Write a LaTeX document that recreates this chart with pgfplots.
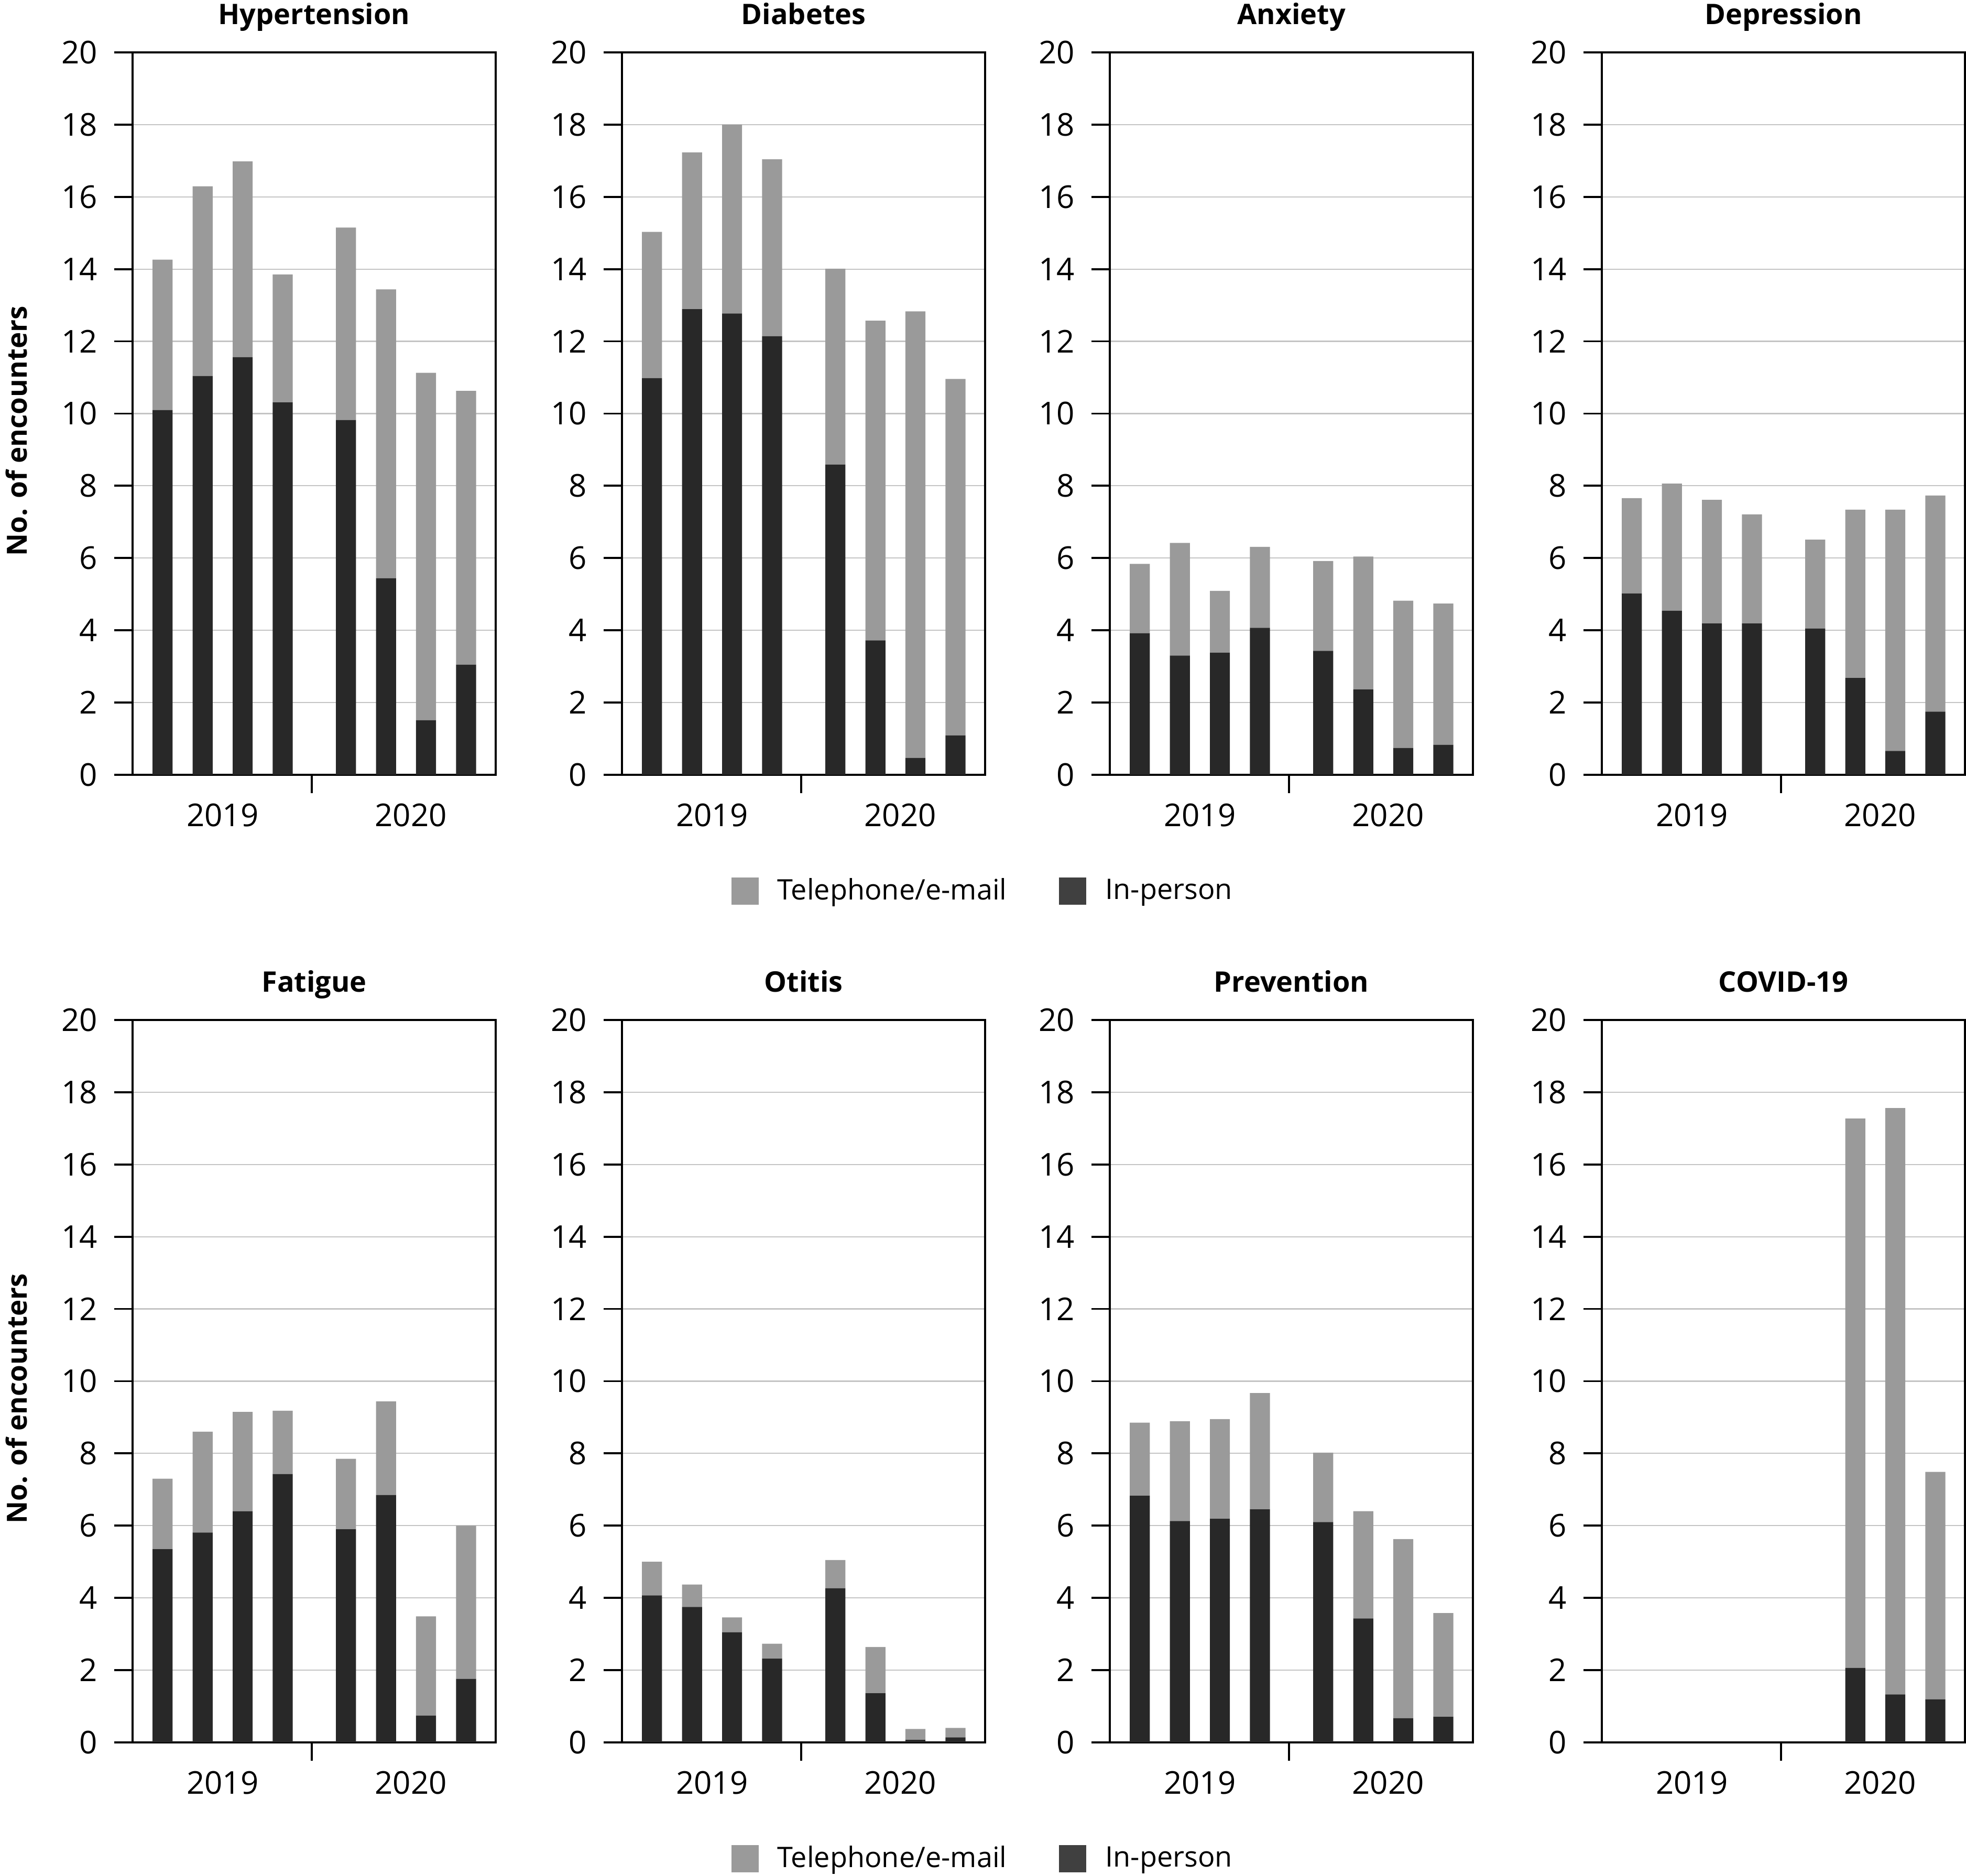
\documentclass[border=0pt]{standalone}
\usepackage{fontspec}
\setmainfont{Open Sans}
\usepackage{pgfplots}
\pgfplotsset{compat=1.18}
\definecolor{tel}{HTML}{9A9A9A}
\definecolor{inp}{HTML}{282828}
\definecolor{inpleg}{HTML}{404040}
\definecolor{gridc}{HTML}{C4C4C4}
\pgfplotsset{
  panel/.style={
    scale only axis, width=138.6pt, height=275.8pt,
    xmin=0.25, xmax=9.32, ymin=0, ymax=20,
    ybar stacked, bar width=0.5,
    ytick={0,2,...,20}, ymajorgrids,
    grid style={gridc, line width=0.45pt},
    xtick={4.73}, xticklabels={},
    extra x ticks={2.5,7.2}, extra x tick labels={2019,2020},
    extra x tick style={major tick length=0pt, grid=none},
    tick align=outside, major tick length=7pt,
    xtick pos=bottom, ytick pos=left,
    axis line style={line width=0.75pt, black},
    tick style={line width=0.75pt, black},
    yticklabel style={font=\fontsize{12}{14}\selectfont, inner sep=0pt, xshift=-6.2pt},
    xticklabel style={font=\fontsize{12}{14}\selectfont, inner sep=0pt, yshift=-10.8pt},
    /pgf/number format/assume math mode=true,
    title style={font=\fontsize{10.8}{12}\selectfont\bfseries, at={(0.5,1)}, anchor=base, yshift=4.7pt, inner sep=0pt},
    ylabel style={font=\fontsize{10.6}{12}\selectfont\bfseries, at={(axis description cs:-0.2886,0.476)}, anchor=south, rotate=0, inner sep=0pt},
  },
  legstyle/.style={
    legend style={at={(0.991,-0.161)}, anchor=center, draw=none, fill=none,
      legend columns=2, font=\fontsize{10.8}{13}\selectfont, inner sep=0pt,
      nodes={inner sep=0pt},
      /tikz/every odd column/.append style={column sep=7.2pt},
      /tikz/every even column/.append style={column sep=20pt}},
  },
}
\begin{document}
\begin{tikzpicture}
\useasboundingbox (0,0) rectangle (750.4pt,716.2pt);
% ---------- Row 1 ----------
\begin{axis}[panel, at={(50.6pt,420.4pt)}, anchor=south west, title={Hypertension}, ylabel={No. of encounters}]
\addplot[fill=inp, draw=none] coordinates {(1,10.10) (2,11.04) (3,11.56) (4,10.31) (5.58,9.82) (6.58,5.44) (7.58,1.51) (8.58,3.05)};
\addplot[fill=tel, draw=none] coordinates {(1,4.16) (2,5.25) (3,5.42) (4,3.54) (5.58,5.33) (6.58,8.00) (7.58,9.62) (8.58,7.58)};
\end{axis}
\begin{axis}[panel, legstyle, at={(237.4pt,420.4pt)}, anchor=south west, title={Diabetes}]
\addplot[fill=inp, draw=none, forget plot] coordinates {(1,10.98) (2,12.89) (3,12.77) (4,12.14) (5.58,8.59) (6.58,3.72) (7.58,0.47) (8.58,1.09)};
\addplot[fill=tel, draw=none, forget plot] coordinates {(1,4.05) (2,4.34) (3,5.23) (4,4.90) (5.58,5.42) (6.58,8.85) (7.58,12.36) (8.58,9.87)};
\addlegendimage{legend image code/.code={\fill[tel] (0pt,-5pt) rectangle (10pt,5pt);}}
\addlegendentry{Telephone/e-mail}
\addlegendimage{legend image code/.code={\fill[inpleg] (0pt,-5pt) rectangle (10pt,5pt);}}
\addlegendentry{In-person}
\end{axis}
\begin{axis}[panel, at={(423.6pt,420.4pt)}, anchor=south west, title={Anxiety}]
\addplot[fill=inp, draw=none] coordinates {(1,3.92) (2,3.30) (3,3.38) (4,4.07) (5.58,3.43) (6.58,2.36) (7.58,0.74) (8.58,0.83)};
\addplot[fill=tel, draw=none] coordinates {(1,1.92) (2,3.12) (3,1.71) (4,2.24) (5.58,2.49) (6.58,3.68) (7.58,4.08) (8.58,3.91)};
\end{axis}
\begin{axis}[panel, at={(611.4pt,420.4pt)}, anchor=south west, title={Depression}]
\addplot[fill=inp, draw=none] coordinates {(1,5.02) (2,4.54) (3,4.19) (4,4.19) (5.58,4.05) (6.58,2.68) (7.58,0.66) (8.58,1.75)};
\addplot[fill=tel, draw=none] coordinates {(1,2.64) (2,3.52) (3,3.42) (4,3.02) (5.58,2.46) (6.58,4.66) (7.58,6.68) (8.58,5.98)};
\end{axis}
% ---------- Row 2 ----------
\begin{axis}[panel, at={(50.6pt,51pt)}, anchor=south west, title={Fatigue}, ylabel={No. of encounters}]
\addplot[fill=inp, draw=none] coordinates {(1,5.35) (2,5.81) (3,6.40) (4,7.43) (5.58,5.90) (6.58,6.85) (7.58,0.74) (8.58,1.76)};
\addplot[fill=tel, draw=none] coordinates {(1,1.95) (2,2.79) (3,2.75) (4,1.75) (5.58,1.95) (6.58,2.59) (7.58,2.75) (8.58,4.24)};
\end{axis}
\begin{axis}[panel, legstyle, at={(237.4pt,51pt)}, anchor=south west, title={Otitis}]
\addplot[fill=inp, draw=none, forget plot] coordinates {(1,4.07) (2,3.75) (3,3.05) (4,2.32) (5.58,4.27) (6.58,1.36) (7.58,0.07) (8.58,0.14)};
\addplot[fill=tel, draw=none, forget plot] coordinates {(1,0.93) (2,0.62) (3,0.41) (4,0.41) (5.58,0.78) (6.58,1.28) (7.58,0.30) (8.58,0.26)};
\addlegendimage{legend image code/.code={\fill[tel] (0pt,-5pt) rectangle (10pt,5pt);}}
\addlegendentry{Telephone/e-mail}
\addlegendimage{legend image code/.code={\fill[inpleg] (0pt,-5pt) rectangle (10pt,5pt);}}
\addlegendentry{In-person}
\end{axis}
\begin{axis}[panel, at={(423.6pt,51pt)}, anchor=south west, title={Prevention}]
\addplot[fill=inp, draw=none] coordinates {(1,6.83) (2,6.13) (3,6.19) (4,6.45) (5.58,6.10) (6.58,3.43) (7.58,0.67) (8.58,0.71)};
\addplot[fill=tel, draw=none] coordinates {(1,2.02) (2,2.76) (3,2.76) (4,3.22) (5.58,1.92) (6.58,2.97) (7.58,4.96) (8.58,2.87)};
\end{axis}
\begin{axis}[panel, at={(611.4pt,51pt)}, anchor=south west, title={COVID-19}]
\addplot[fill=inp, draw=none] coordinates {(6.58,2.06) (7.58,1.33) (8.58,1.19)};
\addplot[fill=tel, draw=none] coordinates {(6.58,15.21) (7.58,16.23) (8.58,6.30)};
\end{axis}
\end{tikzpicture}
\end{document}
